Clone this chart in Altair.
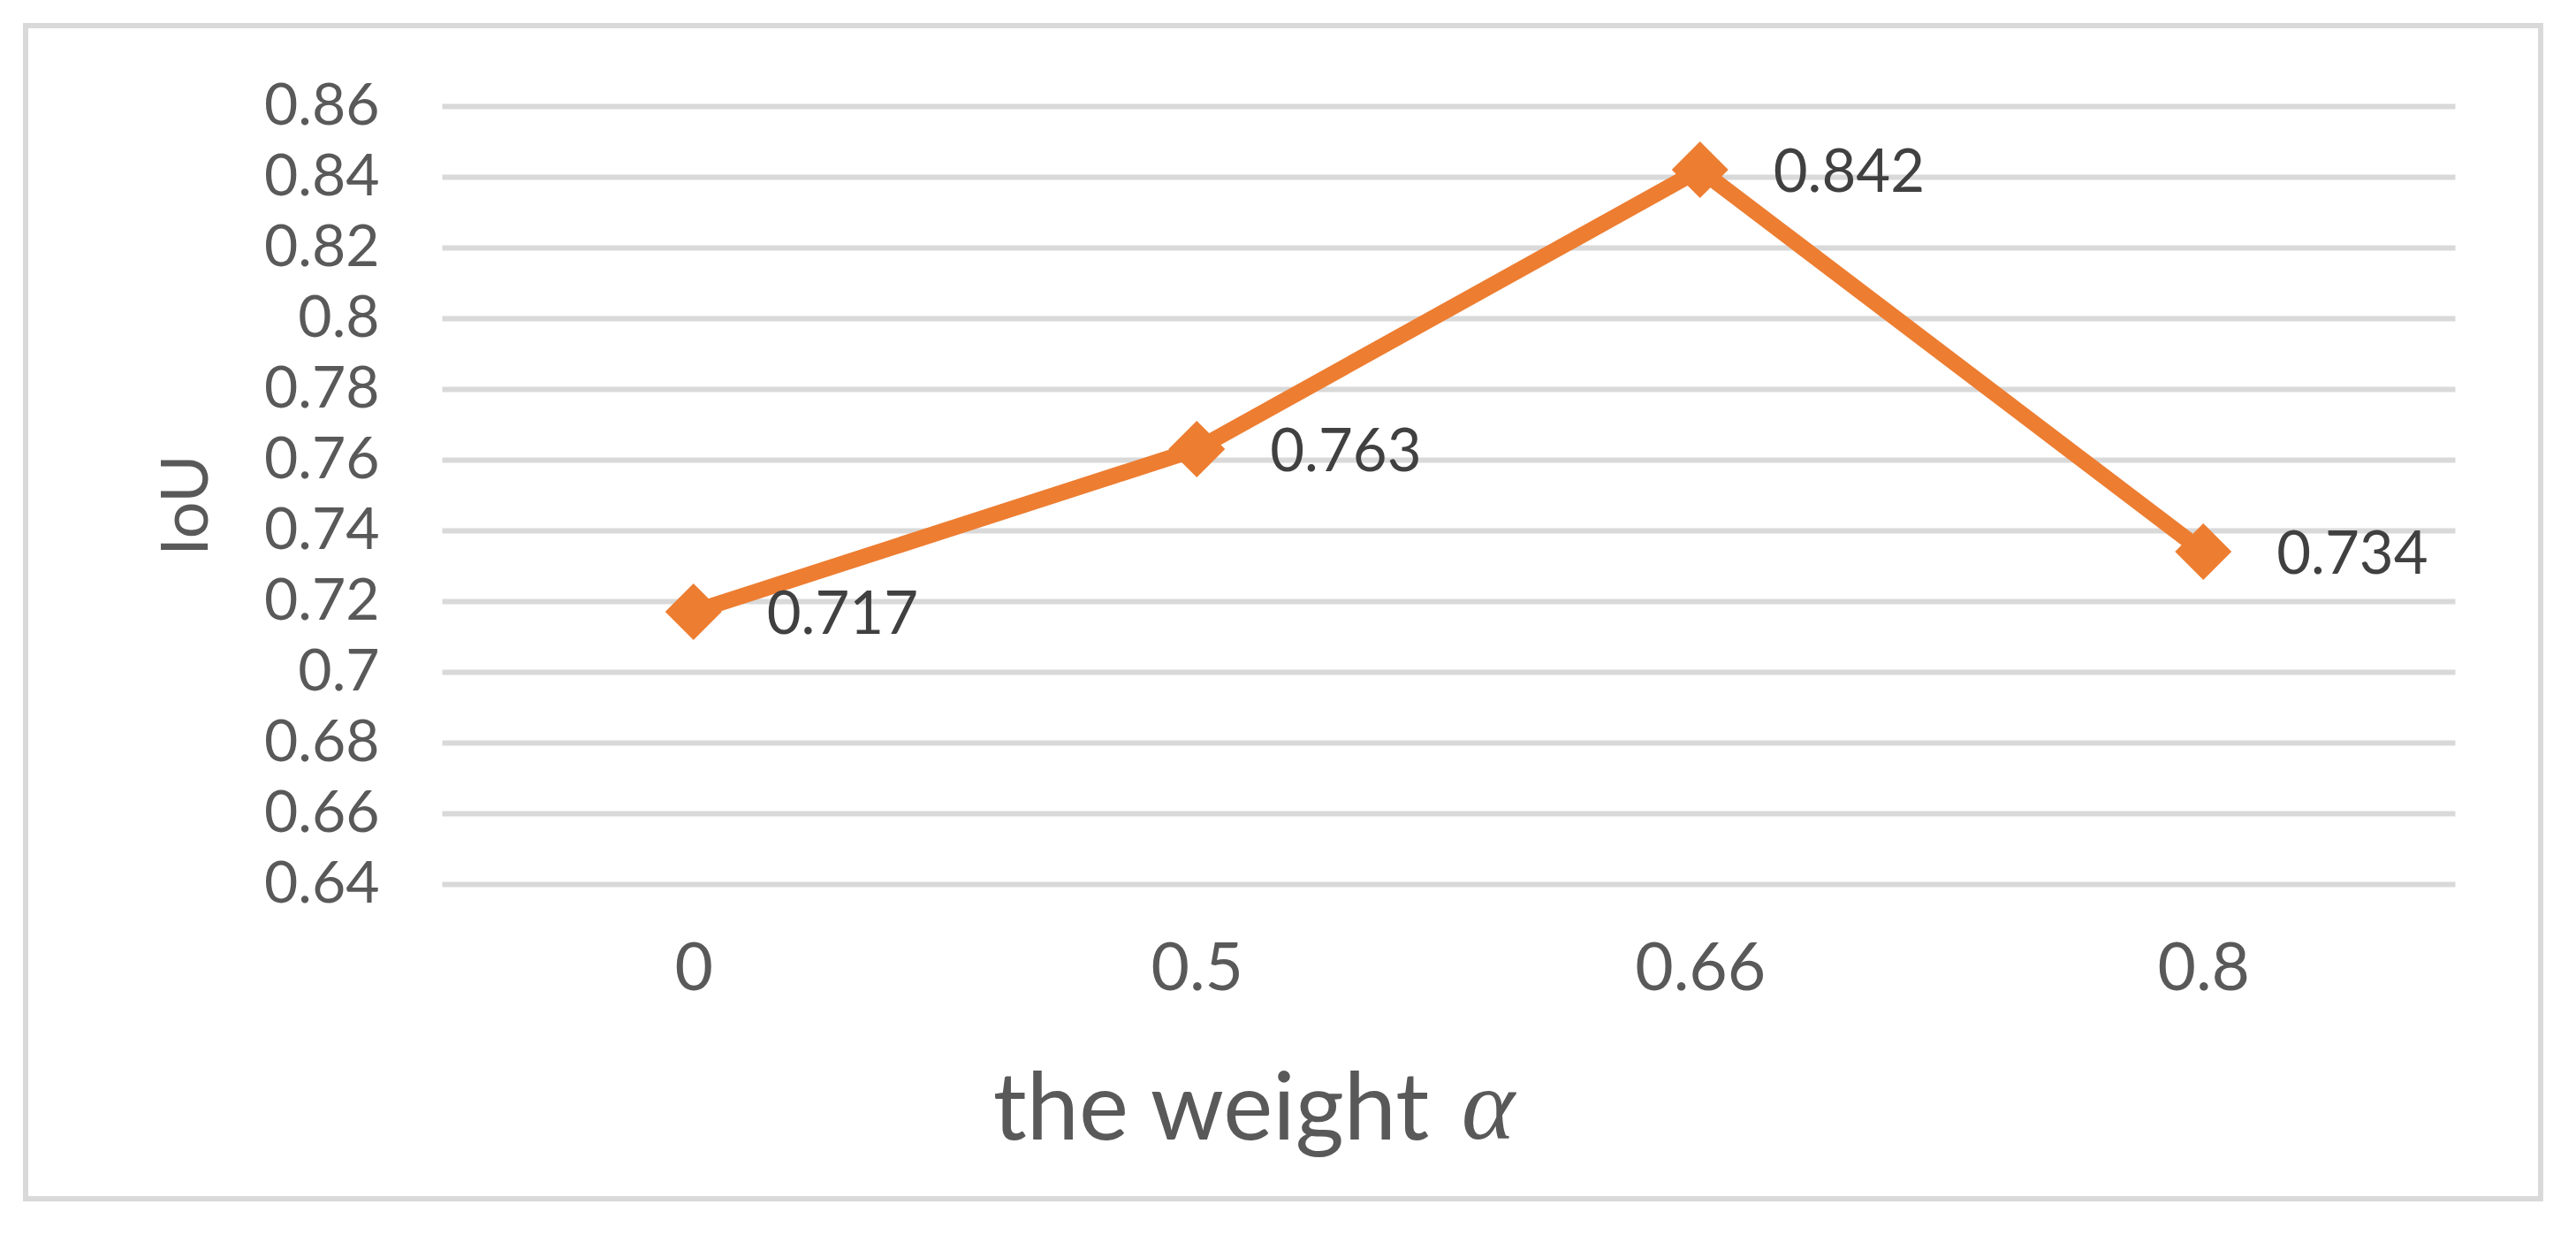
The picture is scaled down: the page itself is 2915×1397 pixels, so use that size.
import altair as alt
import pandas as pd

# data
weights = ["0", "0.5", "0.66", "0.8"]
iou = [0.717, 0.763, 0.842, 0.734]
y_ticks = [0.64, 0.66, 0.68, 0.70, 0.72, 0.74, 0.76, 0.78, 0.80, 0.82, 0.84, 0.86]

df = pd.DataFrame({"weight": weights, "iou": iou})

FONT = "Lato"
ORANGE = "#ED7D31"
GRID = "#D9D9D9"
AXIS_TXT = "#595959"

x_enc = alt.X(
    "weight:N",
    sort=None,
    scale=alt.Scale(paddingInner=0, paddingOuter=0),
    axis=alt.Axis(
        title="the weight",
        labelAngle=0,
        labelFont=FONT,
        labelFontSize=75,
        labelColor=AXIS_TXT,
        labelPadding=60,
        ticks=False,
        tickSize=0,
        domain=False,
        grid=False,
        titleFont=FONT,
        titleFontSize=106,
        titleFontWeight="normal",
        titleColor=AXIS_TXT,
        titleX=870,
        titleY=288,
        titleAlign="center",
        titleBaseline="alphabetic",
    ),
)
y_enc = alt.Y(
    "iou:Q",
    scale=alt.Scale(domain=[0.64, 0.86], nice=False, zero=False),
    axis=alt.Axis(
        title="IoU",
        values=y_ticks,
        format=".2~f",
        labelFont=FONT,
        labelFontSize=66,
        labelColor=AXIS_TXT,
        labelPadding=71,
        ticks=False,
        tickSize=0,
        domain=False,
        grid=True,
        gridColor=GRID,
        gridWidth=6,
        titleFont=FONT,
        titleFontSize=74,
        titleFontWeight="normal",
        titleColor=AXIS_TXT,
        titleAngle=270,
        titleX=-288,
        titleY=451,
        titleAlign="center",
        titleBaseline="middle",
    ),
)

base = alt.Chart(df).encode(x=x_enc, y=y_enc)

line = base.mark_line(color=ORANGE, strokeWidth=18, strokeJoin="miter")
points = base.mark_point(
    shape="diamond", size=4096, filled=True, color=ORANGE, opacity=1
)
labels = base.mark_text(
    align="left", baseline="middle", dx=83, dy=5,
    font=FONT, fontSize=67, color="#404040"
).encode(text=alt.Text("iou:Q", format=".3f"))

alpha = alt.Chart(alt.Data(values=[{"t": "α"}])).mark_text(
    font="Liberation Serif", fontStyle="italic", fontSize=115,
    color=AXIS_TXT, align="center", baseline="alphabetic"
).encode(text="t:N", x=alt.value(1184), y=alt.value(1168))

border = alt.Chart(alt.Data(values=[{}])).mark_rect(
    filled=False, stroke=GRID, strokeWidth=6
).encode(
    x=alt.value(-471), x2=alt.value(2375),
    y=alt.value(-91), y2=alt.value(1236)
)

chart = (
    alt.layer(line, points, labels, alpha, border)
    .properties(
        width=2278,
        height=880,
        autosize=alt.AutoSizeParams(type="none"),
        padding={"left": 492, "top": 112, "right": 129, "bottom": 389},
        background="white",
    )
    .configure_view(stroke=None)
)

chart.save("out.html", embed_options={"renderer": "svg", "actions": False})
